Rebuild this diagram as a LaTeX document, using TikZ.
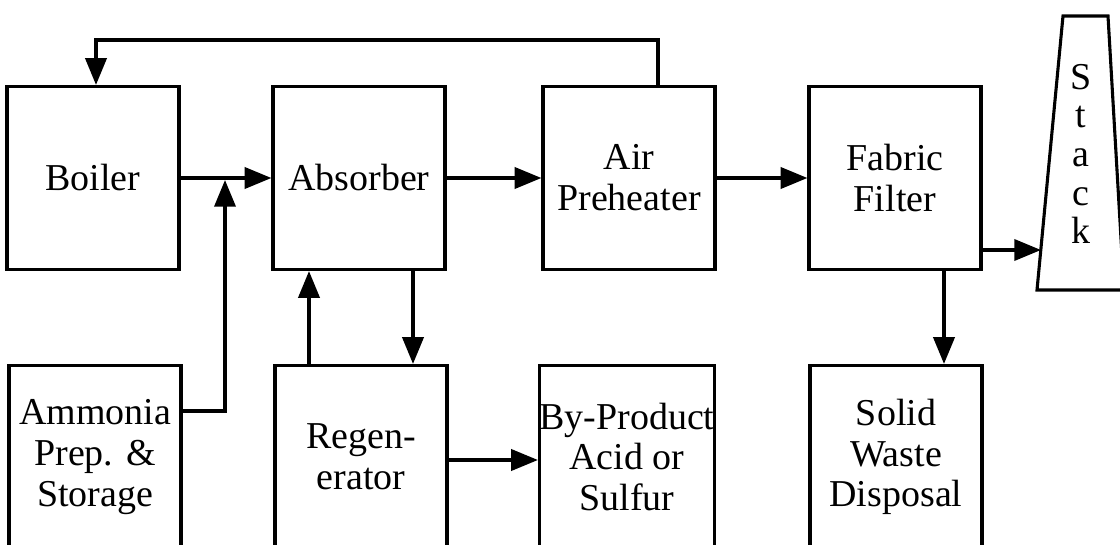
\documentclass[tikz,border=0pt]{standalone}
\usepackage{fontspec}
\setmainfont{Liberation Serif}
\usetikzlibrary{arrows.meta}

\begin{document}
\begin{tikzpicture}[x=0.025cm, y=-0.025cm, >={Triangle[length=19pt,width=15pt]},
    every node/.style={font=\fontsize{27}{29}\selectfont, align=center},
    unit/.style={draw, line width=2.2pt, minimum width=4.3cm, minimum height=4.575cm, inner xsep=0pt},
    flow/.style={->, line width=2.4pt}]
    \clip (0,0) rectangle (1120,545);

    % Top row
    \node[unit] (boiler) at (93,178) {Boiler};
    \node[unit] (absorber) at (359,178) {Absorber};
    \node[unit] (airpre) at (629,178) {Air\\Preheater};
    \node[unit] (fabric) at (895,178) {Fabric\\Filter};

    % Bottom row (runs off the lower edge)
    \node[unit] (ammonia) at (95,457) {Ammonia\\Prep. \&\\Storage};
    \node[unit] (regen) at (361,457) {Regen-\\erator};
    \node[unit] (byprod) at (627,457) {By-Product\\Acid or\\Sulfur};
    \node[unit] (solid) at (896,457) {Solid\\Waste\\Disposal};

    % Stack
    \coordinate (sttl) at (1063,16);
    \coordinate (sttr) at (1108,16);
    \coordinate (stbl) at (1037,290);
    \coordinate (stbr) at (1124,290);
    \draw[line width=2.2pt] (stbr) -- (stbl) -- (sttl) -- (sttr) -- (stbr);
    \node[font=\fontsize{27}{27.5}\selectfont] (stack) at (1081,154) {S\\t\\a\\c\\k};

    % Helper points
    \coordinate (join) at (225,180);
    \coordinate (amy) at (0,411);
    \coordinate (loopl) at (96,40);
    \coordinate (loopr) at (658,40);
    \coordinate (upx) at (309,0);
    \coordinate (dnx) at (413,0);
    \coordinate (rby) at (0,460);
    \coordinate (sdx) at (944,0);
    \coordinate (stin) at (1041,250);

    % Gas path
    \draw[flow] (boiler) -- (absorber);
    \draw[flow] (absorber) -- (airpre);
    \draw[flow] (airpre) -- (fabric);
    \draw[flow] (fabric.east |- stin) -- (stin);

    % Heat return to boiler
    \draw[flow] (airpre.north -| loopr) -- (loopr) -- (loopl) -- (boiler.north -| loopl);

    % Ammonia feed
    \draw[flow] (ammonia.east |- amy) -- (join |- amy) -- (join);

    % Absorber / regenerator loop
    \draw[flow] (regen.north -| upx) -- (absorber.south -| upx);
    \draw[flow] (absorber.south -| dnx) -- (regen.north -| dnx);
    \draw[flow] (regen.east |- rby) -- (byprod.west |- rby);

    % Dust removal
    \draw[flow] (fabric.south -| sdx) -- (solid.north -| sdx);
\end{tikzpicture}
\end{document}
